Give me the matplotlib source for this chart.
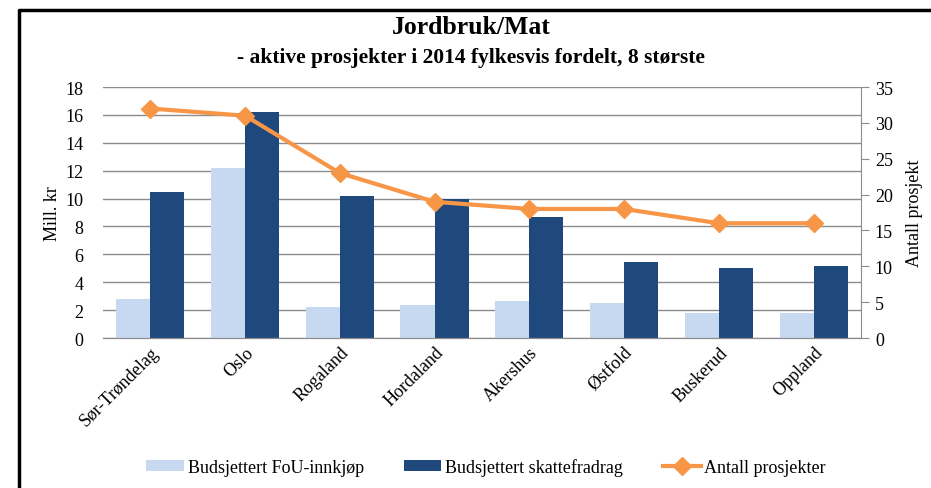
import numpy as np
import matplotlib.pyplot as plt
from matplotlib.lines import Line2D

plt.rcParams['font.family'] = ['Liberation Serif', 'DejaVu Serif']

fylker = ['Sør-Trøndelag', 'Oslo', 'Rogaland', 'Hordaland', 'Akershus',
          'Østfold', 'Buskerud', 'Oppland']
fou_innkjop = [2.8, 12.2, 2.2, 2.4, 2.65, 2.5, 1.8, 1.8]
skattefradrag = [10.5, 16.2, 10.15, 10.0, 8.65, 5.45, 5.0, 5.2]
antall_prosjekter = [32, 31, 23, 19, 18, 18, 16, 16]

light_blue = '#c6d9f1'
dark_blue = '#1f497d'
orange = '#f79646'
grid_grey = '#8c8c8c'

fig = plt.figure(figsize=(9.31, 4.89), dpi=100)
ax = fig.add_axes([0.1106, 0.3067, 0.8142, 0.5133])
ax2 = ax.twinx()

x = np.arange(len(fylker))
w = 0.36
ax.bar(x - w / 2, fou_innkjop, w, color=light_blue, label='Budsjettert FoU-innkjøp', zorder=2)
ax.bar(x + w / 2, skattefradrag, w, color=dark_blue, label='Budsjettert skattefradrag', zorder=2)
ax2.plot(x, antall_prosjekter, color=orange, lw=3, marker='D', ms=9,
         label='Antall prosjekter', zorder=3)

ax.set_xlim(-0.5, len(fylker) - 0.5)
ax.set_ylim(0, 18)
ax.set_yticks(range(0, 19, 2))
ax2.set_ylim(0, 35)
ax2.set_yticks(range(0, 36, 5))

ax.yaxis.grid(True, color=grid_grey, lw=1, zorder=0)
ax.set_axisbelow(True)
for a in (ax, ax2):
    for s in ('top', 'left', 'right'):
        a.spines[s].set_visible(False)
    a.spines['bottom'].set_color(grid_grey)
ax2.spines['right'].set_visible(True)
ax2.spines['right'].set_color(grid_grey)

ax.tick_params(axis='y', length=0, labelsize=13, pad=14)
ax.tick_params(axis='x', length=0, labelsize=13, pad=4)
ax2.tick_params(axis='y', length=6, color=grid_grey, labelsize=13, pad=4)

ax.set_xticks(x)
ax.set_xticklabels(fylker, rotation=45, ha='right', rotation_mode='anchor')

ax.set_ylabel('Mill. kr', fontsize=13, labelpad=3)
ax2.set_ylabel('Antall prosjekt', fontsize=13, labelpad=9)

fig.text(0.506, 1 - 28 / 489, 'Jordbruk/Mat', ha='center', va='center',
         fontsize=18.5, fontweight='bold')
fig.text(0.506, 1 - 58 / 489, '- aktive prosjekter i 2014 fylkesvis fordelt, 8 største',
         ha='center', va='center', fontsize=15.5, fontweight='bold')

h1, l1 = ax.get_legend_handles_labels()
h2, l2 = ax2.get_legend_handles_labels()
fig.legend(h1 + h2, l1 + l2, loc='center', bbox_to_anchor=(0.522, 1 - 468 / 489), ncol=3,
           frameon=False, fontsize=13, handlelength=2.1, handleheight=0.6,
           columnspacing=2.2, handletextpad=0.2)

# outer frame (only top and left edges fall inside the picture)
fig.add_artist(Line2D([19 / 931, 19 / 931, 1.0], [0.0, 1 - 11 / 489, 1 - 11 / 489],
                      transform=fig.transFigure, color='black', lw=2.5))

fig.savefig('out.png', dpi=100)
